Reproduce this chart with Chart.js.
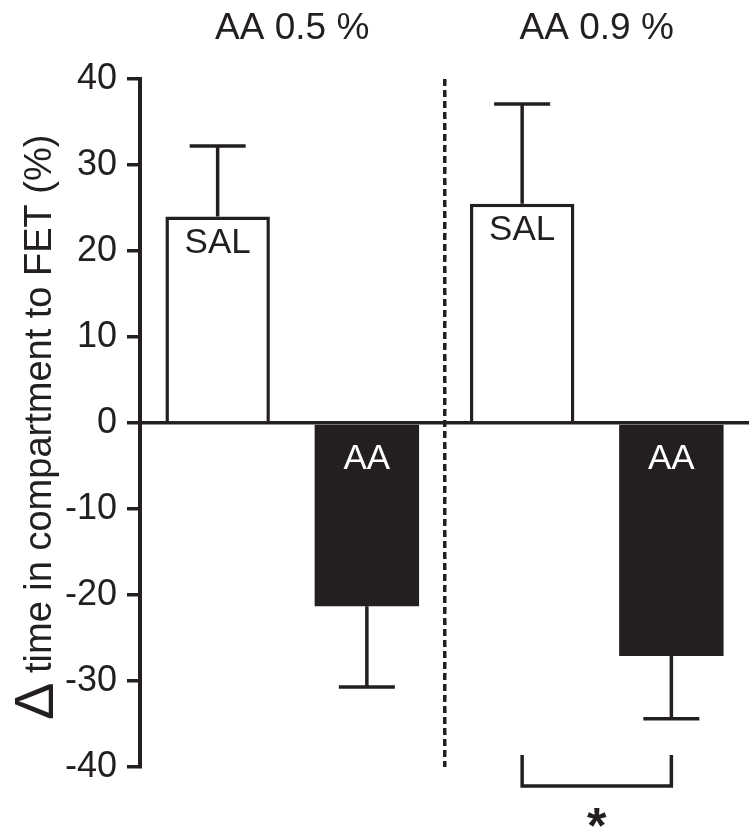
<!DOCTYPE html>
<html>
<head>
<meta charset="utf-8">
<script src="https://cdn.jsdelivr.net/npm/chart.js@4.4.0/dist/chart.umd.min.js"></script>
<style>
  html, body { margin: 0; padding: 0; background: #fff; }
  canvas { display: block; }
</style>
</head>
<body>
<canvas id="myChart" width="749" height="827"></canvas>
<script>
const groups = ['AA 0.5 %', 'AA 0.9 %'];
const seriesNames = ['SAL', 'AA'];
const salMeans = [24.0, 25.5];
const salSem = [8.2, 11.6];
const aaMeans = [-21.3, -27.1];
const aaSem = [9.4, 7.3];
const significance = ['', '*'];
const yTitleSymbol = 'Δ';
const yTitleText = 'time in compartment to FET (%)';

const ink = '#231f20';
const family = '"Liberation Sans", Arial, Helvetica, sans-serif';
Chart.defaults.font.family = family;
Chart.defaults.color = ink;

const ctx = document.getElementById('myChart').getContext('2d');

// error bars (one side only, away from zero)
const errorBars = {
    id: 'errorBars',
    afterDatasetsDraw(chart) {
        const c = chart.ctx;
        const y = chart.scales.y;
        chart.data.datasets.forEach((ds, di) => {
            chart.getDatasetMeta(di).data.forEach((bar, i) => {
                const v = ds.data[i];
                const end = v >= 0 ? v + ds.sem[i] : v - ds.sem[i];
                const yEnd = y.getPixelForValue(end);
                c.save();
                c.strokeStyle = ink;
                c.lineWidth = 3.5;
                c.beginPath();
                c.moveTo(bar.x, bar.y);
                c.lineTo(bar.x, yEnd);
                c.moveTo(bar.x - 28, yEnd);
                c.lineTo(bar.x + 28, yEnd);
                c.stroke();
                c.restore();
            });
        });
    }
};

// group names written inside the bars
const barLabels = {
    id: 'barLabels',
    afterDatasetsDraw(chart) {
        const c = chart.ctx;
        chart.data.datasets.forEach((ds, di) => {
            chart.getDatasetMeta(di).data.forEach((bar) => {
                const top = Math.min(bar.y, bar.base);
                c.save();
                c.font = '35px ' + family;
                c.fillStyle = ds.labelColor;
                c.textAlign = 'center';
                c.textBaseline = 'alphabetic';
                c.fillText(ds.label, bar.x, top + ds.labelOffset);
                c.restore();
            });
        });
    }
};

// significance bracket under the bars + y title
const extras = {
    id: 'extras',
    afterDraw(chart) {
        const c = chart.ctx;
        const area = chart.chartArea;
        const a = chart.getDatasetMeta(0).data;
        const b = chart.getDatasetMeta(1).data;
        significance.forEach((s, i) => {
            if (!s) return;
            const x1 = a[i].x, x2 = b[i].x;
            c.save();
            c.strokeStyle = ink;
            c.lineWidth = 3.5;
            c.beginPath();
            c.moveTo(x1, area.bottom - 12);
            c.lineTo(x1, area.bottom + 19);
            c.lineTo(x2, area.bottom + 19);
            c.lineTo(x2, area.bottom - 12);
            c.stroke();
            c.font = 'bold 50px ' + family;
            c.fillStyle = ink;
            c.textAlign = 'center';
            c.textBaseline = 'alphabetic';
            const m = c.measureText(s);
            const h = m.actualBoundingBoxAscent + m.actualBoundingBoxDescent;
            c.fillText(s, (x1 + x2) / 2, area.bottom + 50 + m.actualBoundingBoxAscent - h / 2);
            c.restore();
        });

        c.save();
        c.fillStyle = ink;
        c.translate(53, 720);
        c.rotate(-Math.PI / 2);
        c.textBaseline = 'alphabetic';
        c.textAlign = 'left';
        c.font = '56px ' + family;
        c.fillText(yTitleSymbol, 0, 0);
        c.font = '38px ' + family;
        c.fillText(yTitleText, 47, -2);
        c.restore();
    }
};

const chart = new Chart(ctx, {
    type: 'bar',
    data: {
        labels: groups,
        datasets: [
            {
                label: seriesNames[0],
                data: salMeans,
                sem: salSem,
                backgroundColor: '#ffffff',
                borderColor: ink,
                borderWidth: 3.5,
                borderSkipped: 'start',
                labelColor: ink,
                labelOffset: 36,
                categoryPercentage: 0.98,
                barPercentage: 0.7,
            },
            {
                label: seriesNames[1],
                data: aaMeans,
                sem: aaSem,
                backgroundColor: ink,
                borderColor: ink,
                borderWidth: 0,
                labelColor: '#ffffff',
                labelOffset: 44,
                categoryPercentage: 0.98,
                barPercentage: 0.7,
            },
        ],
    },
    options: {
        responsive: false,
        animation: false,
        devicePixelRatio: 1,
        layout: { padding: { top: 0, right: 0, bottom: 60, left: 0 } },
        plugins: {
            legend: { display: false },
            tooltip: { enabled: false },
        },
        scales: {
            x: {
                position: 'top',
                afterFit: (s) => { s.height = 79; },
                grid: {
                    color: (c) => (c.index === 1 ? ink : 'transparent'),
                    lineWidth: 3.5,
                    drawTicks: false,
                    offset: true,
                },
                border: { display: false, dash: [7, 4] },
                ticks: { color: ink, font: { size: 37 }, padding: 28 },
            },
            y: {
                min: -40,
                max: 40,
                afterFit: (s) => { s.width = 140; },
                ticks: { stepSize: 10, color: ink, font: { size: 36 }, padding: 10 },
                grid: {
                    color: (c) => (c.tick && c.tick.value === 0 ? ink : 'transparent'),
                    tickColor: ink,
                    lineWidth: 3.5,
                    tickLength: 13,
                },
                border: { display: true, color: ink, width: 4 },
            },
        },
    },
    plugins: [errorBars, barLabels, extras],
});
</script>
</body>
</html>
